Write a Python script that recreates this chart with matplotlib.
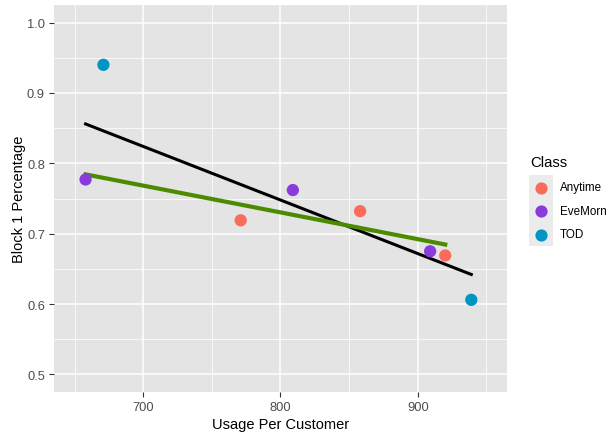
import numpy as np
import matplotlib
matplotlib.use("Agg")
import matplotlib.pyplot as plt
from matplotlib.patches import Rectangle
from matplotlib.lines import Line2D

plt.rcParams["font.family"] = ["Liberation Sans", "DejaVu Sans"]

# data
classes = ["Anytime", "EveMorn", "TOD"]
anytime_x = [771, 858, 920]
anytime_y = [0.719, 0.732, 0.669]
evemorn_x = [658, 809, 909]
evemorn_y = [0.777, 0.762, 0.675]
tod_x = [671, 939]
tod_y = [0.940, 0.606]

colors = {"Anytime": "#FA6B5C", "EveMorn": "#8A3BDB", "TOD": "#0095C2"}

W, H = 608, 435
fig = plt.figure(figsize=(W / 100, H / 100), dpi=100)
ax = fig.add_axes([54 / W, 1 - 393 / H, (507 - 54) / W, (393 - 6) / H])
ax.set_facecolor("#E4E4E4")

# linear fits (geom_smooth method = lm): all points, and Anytime + EveMorn
all_x = np.array(anytime_x + evemorn_x + tod_x, dtype=float)
all_y = np.array(anytime_y + evemorn_y + tod_y, dtype=float)
sub_x = np.array(anytime_x + evemorn_x, dtype=float)
sub_y = np.array(anytime_y + evemorn_y, dtype=float)

b1, b0 = np.polyfit(all_x, all_y, 1)
xs = np.linspace(all_x.min(), all_x.max(), 80)
ax.plot(xs, b0 + b1 * xs, color="black", lw=2.2, zorder=3)

g1, g0 = np.polyfit(sub_x, sub_y, 1)
xg = np.linspace(sub_x.min(), sub_x.max(), 80)
ax.plot(xg, g0 + g1 * xg, color="#4C8A00", lw=3.0, zorder=3)

series = {
    "Anytime": (anytime_x, anytime_y),
    "EveMorn": (evemorn_x, evemorn_y),
    "TOD": (tod_x, tod_y),
}
for name in classes:
    x, y = series[name]
    ax.scatter(x, y, s=78, color=colors[name], edgecolors="none", zorder=4)

ax.set_xlim(635, 965)
ax.set_ylim(0.475, 1.025)
ax.set_xticks([700, 800, 900])
ax.set_xticks([650, 750, 850, 950], minor=True)
ax.set_yticks([0.5, 0.6, 0.7, 0.8, 0.9, 1.0])
ax.set_yticks([0.55, 0.65, 0.75, 0.85, 0.95], minor=True)
ax.set_yticklabels(["0.5", "0.6", "0.7", "0.8", "0.9", "1.0"])
ax.grid(True, which="major", color="white", lw=1.1)
ax.grid(True, which="minor", color="white", lw=0.55)
ax.set_axisbelow(True)
for s in ax.spines.values():
    s.set_visible(False)
ax.tick_params(which="major", length=3.5, width=0.8, color="#333333",
               labelcolor="#4D4D4D", labelsize=9.3, pad=3)
ax.tick_params(which="minor", length=0)

ax.set_xlabel("Usage Per Customer", fontsize=10.5, color="black", labelpad=3)
ax.set_ylabel("Block 1 Percentage", fontsize=10.5, color="black")
ax.yaxis.set_label_coords(-28 / (507 - 54), 0.5)

# legend, laid out like ggplot's guide
fig.patches.append(Rectangle((529 / W, 1 - 247 / H), 24 / W, 71 / H,
                             transform=fig.transFigure, facecolor="#EBEBEB",
                             edgecolor="none", zorder=0))
fig.text(530 / W, 1 - 163 / H, "Class", fontsize=10.7, va="center", ha="left")
key_y = [188.5, 212, 235.5]
for name, ky in zip(classes, key_y):
    fig.add_artist(Line2D([541 / W], [1 - ky / H], marker="o", markersize=8.8,
                          color=colors[name], markeredgewidth=0, linestyle="none",
                          transform=fig.transFigure))
    fig.text(560 / W, 1 - ky / H, name, fontsize=8.4, va="center", ha="left")

fig.savefig("out.png", dpi=100)
